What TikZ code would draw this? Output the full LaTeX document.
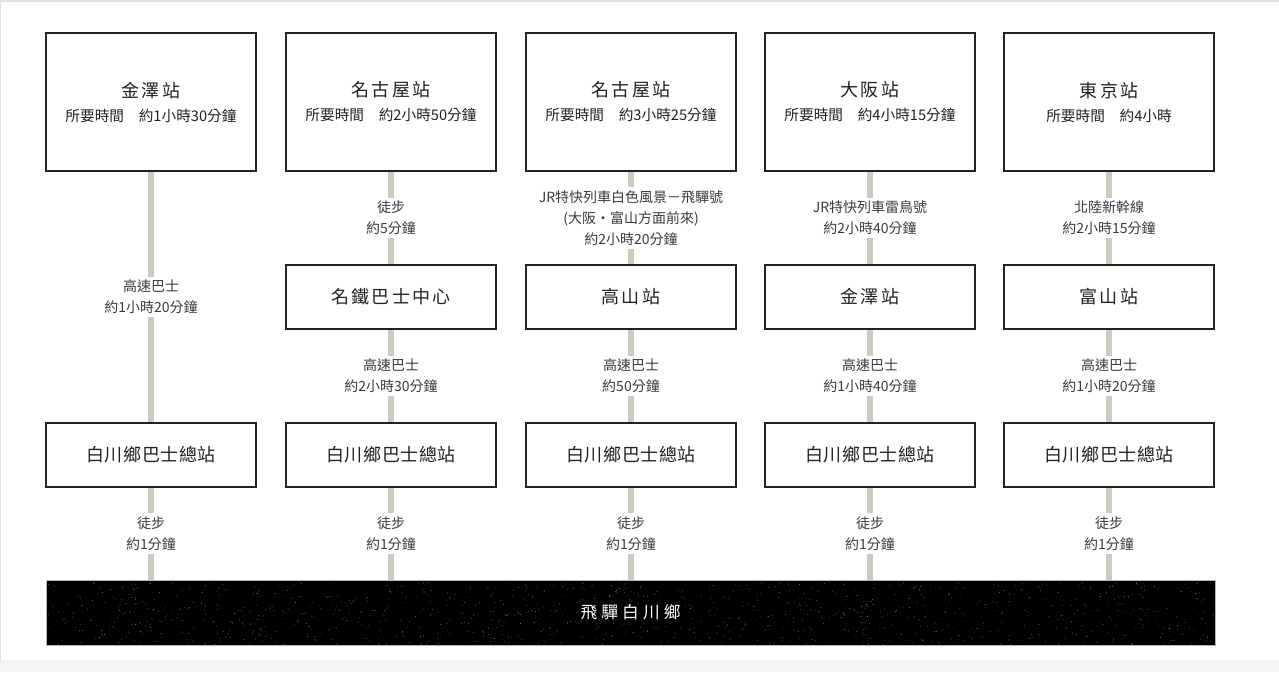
\documentclass[tikz,border=0pt]{standalone}
\usepackage{fontspec}
\setmainfont{Noto Sans CJK TC}
\newfontfamily\titlefont[LetterSpace=12]{Noto Sans CJK TC}
\newfontfamily\botfont[LetterSpace=3]{Noto Sans CJK TC}
\newfontfamily\widefont[LetterSpace=25]{Noto Sans CJK TC}
\definecolor{conncol}{HTML}{CDCAC2}
\definecolor{txtcol}{HTML}{3A3A42}
\definecolor{boxcol}{HTML}{222222}
\definecolor{edgecol}{HTML}{E2E2E2}
\definecolor{bandcol}{HTML}{F4F4F4}
\tikzset{
  topbox/.style={draw=boxcol, line width=1.5pt, fill=white, minimum width=157.5pt, minimum height=103.5pt, inner sep=0pt, align=center, text=boxcol, font=\fontsize{11}{18}\selectfont},
  midbox/.style={draw=boxcol, line width=1.5pt, fill=white, minimum width=157.5pt, minimum height=48pt, inner sep=0pt, text=boxcol, font=\titlefont\fontsize{13.5}{18}\selectfont},
  botbox/.style={midbox, font=\botfont\fontsize{13.5}{18}\selectfont},
  conn/.style={line width=4.5pt, draw=conncol},
  lbl/.style={fill=white, inner xsep=2pt, inner ysep=2.5pt, align=center, text=txtcol, font=\fontsize{10.5}{15.75}\selectfont},
  barbox/.style={fill=black, draw=gray!60, line width=0.75pt, minimum width=876.75pt, minimum height=48.75pt, inner sep=0pt, text=white, font=\widefont\fontsize{12.5}{16}\selectfont}
}
\newcommand{\ttl}[1]{{\titlefont\fontsize{13.5}{18}\selectfont #1}}
\begin{document}
\begin{tikzpicture}[x=0.75pt,y=-0.75pt]
\useasboundingbox (0,0) rectangle (1279,672);
\fill[white] (0,0) rectangle (1279,672);
\fill[bandcol] (0,660) rectangle (1279,672);
\fill[edgecol] (0,0) rectangle (1279,1.5);
\fill[edgecol] (0,0) rectangle (1.5,660);

% top boxes
\node[topbox] (t1) at (151,102) {\ttl{金澤站}\\所要時間　約1小時30分鐘};
\node[topbox] (t2) at (391,102) {\ttl{名古屋站}\\所要時間　約2小時50分鐘};
\node[topbox] (t3) at (631,102) {\ttl{名古屋站}\\所要時間　約3小時25分鐘};
\node[topbox] (t4) at (870,102) {\ttl{大阪站}\\所要時間　約4小時15分鐘};
\node[topbox] (t5) at (1109,102) {\ttl{東京站}\\所要時間　約4小時};

% middle boxes
\node[midbox] (m2) at (391,297) {名鐵巴士中心};
\node[midbox] (m3) at (631,297) {高山站};
\node[midbox] (m4) at (870,297) {金澤站};
\node[midbox] (m5) at (1109,297) {富山站};

% bottom boxes
\node[botbox] (b1) at (151,455) {白川鄉巴士總站};
\node[botbox] (b2) at (391,455) {白川鄉巴士總站};
\node[botbox] (b3) at (631,455) {白川鄉巴士總站};
\node[botbox] (b4) at (870,455) {白川鄉巴士總站};
\node[botbox] (b5) at (1109,455) {白川鄉巴士總站};

% bar with speckled texture
\node[barbox, path picture={
  \pgfmathsetseed{7}
  \foreach \i in {1,...,1500}{
    \pgfmathsetmacro\rx{-640+1280*rnd}
    \pgfmathsetmacro\ry{-36+72*rnd}
    \pgfmathsetmacro\op{0.15+0.35*rnd}
    \fill[white,opacity=\op] (\rx,\ry) circle (0.4pt);
  }}] (h) at (630.5,612.5) {飛驒白川鄉};

% connectors
\draw[conn] (t1.south) -- node[lbl]{高速巴士\\約1小時20分鐘} (b1.north);
\draw[conn] (t2.south) -- node[lbl]{徒步\\約5分鐘} (m2.north);
\draw[conn] (t3.south) -- node[lbl]{JR特快列車白色風景－飛驒號\\(大阪・富山方面前來)\\約2小時20分鐘} (m3.north);
\draw[conn] (t4.south) -- node[lbl]{JR特快列車雷鳥號\\約2小時40分鐘} (m4.north);
\draw[conn] (t5.south) -- node[lbl]{北陸新幹線\\約2小時15分鐘} (m5.north);

\draw[conn] (m2.south) -- node[lbl]{高速巴士\\約2小時30分鐘} (b2.north);
\draw[conn] (m3.south) -- node[lbl]{高速巴士\\約50分鐘} (b3.north);
\draw[conn] (m4.south) -- node[lbl]{高速巴士\\約1小時40分鐘} (b4.north);
\draw[conn] (m5.south) -- node[lbl]{高速巴士\\約1小時20分鐘} (b5.north);

\foreach \k in {1,...,5}{
  \draw[conn] (b\k.south) -- node[lbl]{徒步\\約1分鐘} (b\k.south |- h.north);
}
\end{tikzpicture}
\end{document}
